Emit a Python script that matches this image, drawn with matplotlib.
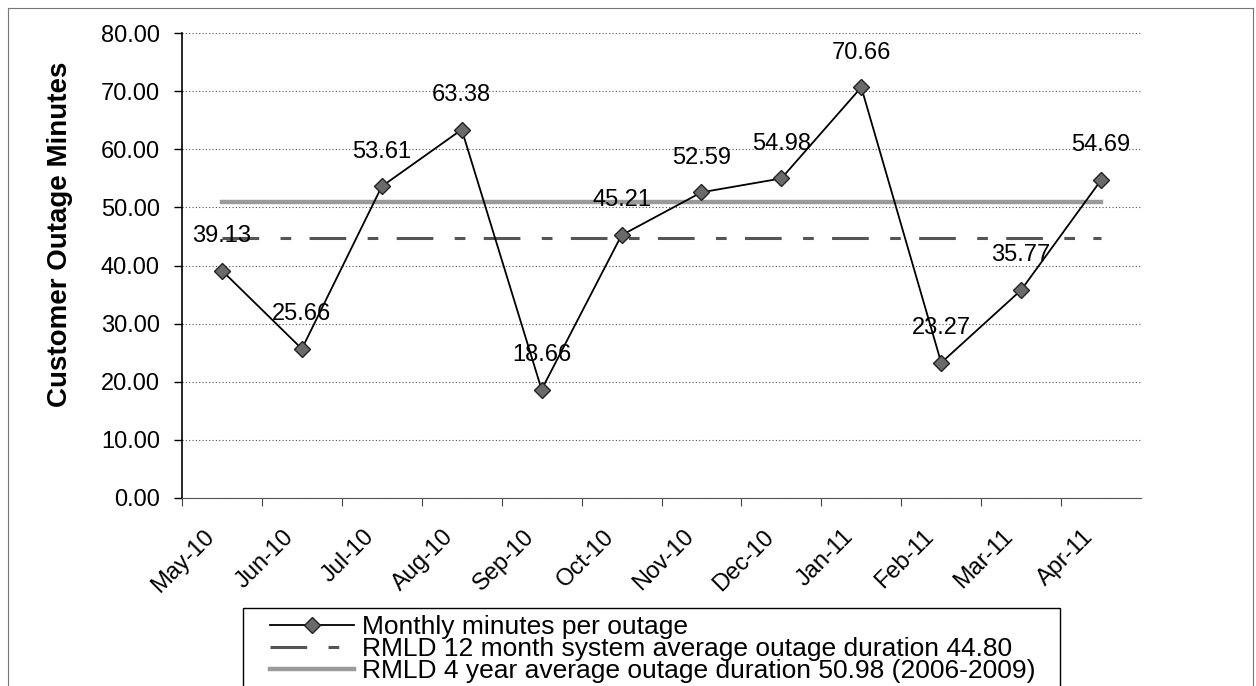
import numpy as np
import matplotlib.pyplot as plt
import matplotlib.transforms as mtransforms
from matplotlib.lines import Line2D
from matplotlib.patches import Rectangle

plt.rcParams['font.family'] = ['Liberation Sans', 'DejaVu Sans']

# data
months = ['May-10', 'Jun-10', 'Jul-10', 'Aug-10', 'Sep-10', 'Oct-10',
          'Nov-10', 'Dec-10', 'Jan-11', 'Feb-11', 'Mar-11', 'Apr-11']
minutes = [39.13, 25.66, 53.61, 63.38, 18.66, 45.21,
           52.59, 54.98, 70.66, 23.27, 35.77, 54.69]
avg_12_month = 44.80
avg_4_year = 50.98

labels = ['Monthly minutes per outage',
          'RMLD 12 month system average outage duration 44.80',
          'RMLD 4 year average outage duration 50.98 (2006-2009)']

W, H = 1256, 686
fig = plt.figure(figsize=(W / 100, H / 100), dpi=100)
ax = fig.add_axes([182 / W, 1 - 498 / H, 959 / W, 465 / H])

x = np.arange(len(months))

l2, = ax.plot(x, [avg_4_year] * len(x), color='#9a9a9a', lw=3.2,
              solid_capstyle='projecting', zorder=2)
l1, = ax.plot(x, [avg_12_month] * len(x), color='#555555', lw=2.2,
              linestyle=(0, (12, 7, 3.5, 6)), zorder=2)
l0, = ax.plot(x, minutes, color='black', lw=1.3, marker='D', markersize=8,
              markerfacecolor='#6a6a6a', markeredgecolor='#222222',
              markeredgewidth=1, zorder=3)

for xi, v in zip(x, minutes):
    ax.annotate(f'{v:.2f}', (xi, v), xytext=(0, 25), textcoords='offset points',
                ha='center', va='center', fontsize=17, zorder=4)

ax.set_xlim(-0.5, 11.5)
ax.set_ylim(0, 80)
ax.set_yticks(np.arange(0, 81, 10))
ax.set_yticklabels([f'{t:.2f}' for t in np.arange(0, 81, 10)])
ax.tick_params(axis='y', labelsize=17, length=6, width=1, pad=10, direction='out')

ax.set_xticks(x)
ax.set_xticklabels(months, rotation=45, ha='right', va='top',
                   rotation_mode='anchor', fontsize=17)
ax.set_xticks(x - 0.5, minor=True)
ax.tick_params(axis='x', which='major', length=0, pad=20)
ax.tick_params(axis='x', which='minor', length=6, width=0.8, color='#444444')
shift = mtransforms.ScaledTranslation(-0.19, 0, fig.dpi_scale_trans)
for lab in ax.get_xticklabels():
    lab.set_transform(lab.get_transform() + shift)

ax.grid(axis='y', color='#555555', lw=0.8, linestyle=(0, (1, 2)))
ax.spines['top'].set_visible(False)
ax.spines['right'].set_visible(False)
ax.spines['left'].set_linewidth(1.2)
ax.spines['bottom'].set_color('#555555')
ax.spines['bottom'].set_linestyle((0, (1, 1)))

ax.set_ylabel('Customer Outage Minutes', fontsize=20, fontweight='bold')
ax.yaxis.set_label_coords(-0.114, 0.568)

# legend without its own frame; box drawn separately so it runs off the bottom
fig.legend([l0, l1, l2], labels, loc='upper left',
           bbox_to_anchor=(270 / W, 1 - 615 / H), borderaxespad=0,
           fontsize=19, frameon=False, handlelength=3.2, handletextpad=0.3,
           labelspacing=-0.08, borderpad=0)
fig.add_artist(Rectangle((243 / W, -0.05), (1060 - 243) / W, 0.05 + (H - 608) / H,
                         transform=fig.transFigure, fill=False,
                         edgecolor='black', lw=1))

# thin border round the scanned figure
for xs, ys in [([8, 8], [0, 678]), ([8, 1253], [678, 678]), ([1253, 1253], [0, 678])]:
    fig.add_artist(Line2D(np.array(xs) / W, np.array(ys) / H,
                          color='#777777', lw=0.8))

fig.savefig('out.png', dpi=100)
